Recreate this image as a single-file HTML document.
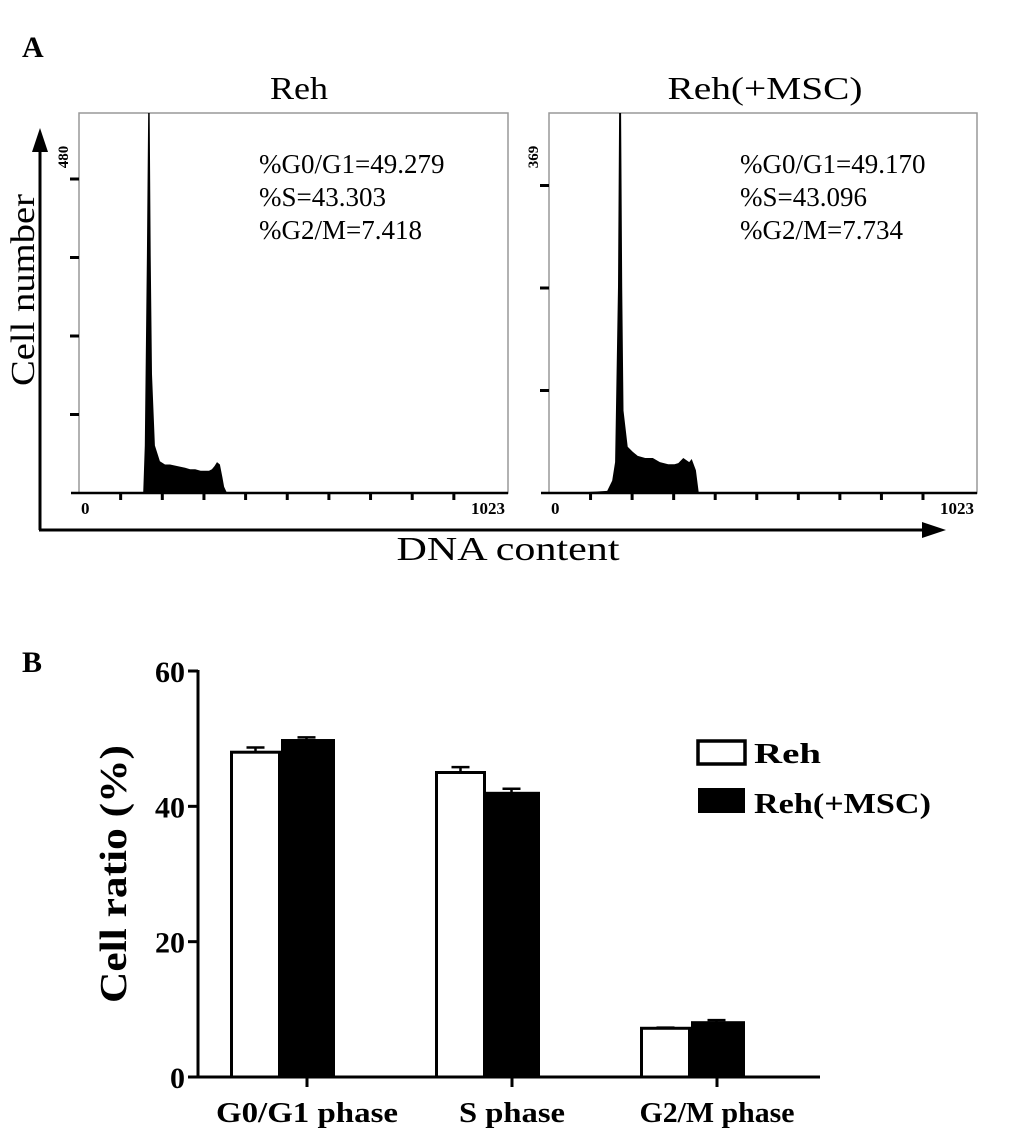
<!DOCTYPE html>
<html><head><meta charset="utf-8">
<style>
html,body{margin:0;padding:0;background:#fff;}
svg{display:block;}
text{font-family:"Liberation Serif",serif;fill:#000;}
</style></head>
<body>
<svg id="fig" width="1033" height="1138" viewBox="0 0 1033 1138">
<defs>
<clipPath id="clipL"><rect x="79" y="113" width="429" height="381"/></clipPath>
<clipPath id="clipR"><rect x="549" y="113" width="428" height="381"/></clipPath>
</defs>
<text x="22" y="57" font-size="30" font-weight="bold">A</text>
<text x="299" y="99" font-size="32" text-anchor="middle" textLength="58" lengthAdjust="spacingAndGlyphs">Reh</text>
<text x="765" y="99" font-size="32" text-anchor="middle" textLength="195" lengthAdjust="spacingAndGlyphs">Reh(+MSC)</text>

<g id="histL"></g>
<g id="histR"></g>

<text font-size="27">
<tspan x="259" y="173">%G0/G1=49.279</tspan><tspan x="259" y="206">%S=43.303</tspan><tspan x="259" y="239">%G2/M=7.418</tspan></text>
<text font-size="27">
<tspan x="740" y="173">%G0/G1=49.170</tspan><tspan x="740" y="206">%S=43.096</tspan><tspan x="740" y="239">%G2/M=7.734</tspan></text>

<g>
<line x1="40" y1="140" x2="40" y2="530" stroke="#000" stroke-width="3"/>
<polygon points="40,128 32,152 48,152" fill="#000"/>
<line x1="39" y1="530" x2="930" y2="530" stroke="#000" stroke-width="3"/>
<polygon points="946,530 922,522 922,538" fill="#000"/>
</g>
<text transform="translate(34,290) rotate(-90)" font-size="34" text-anchor="middle" textLength="192" lengthAdjust="spacingAndGlyphs">Cell number</text>
<text x="508" y="560" font-size="34" text-anchor="middle" textLength="223" lengthAdjust="spacingAndGlyphs">DNA content</text>

<text x="22" y="672" font-size="30" font-weight="bold">B</text>
<g id="bars"></g>
<text transform="translate(126,874) rotate(-90)" font-size="38" font-weight="bold" text-anchor="middle" textLength="258" lengthAdjust="spacingAndGlyphs">Cell ratio (%)</text>
<g>
<rect x="698" y="741" width="47" height="23" fill="#fff" stroke="#000" stroke-width="3.5"/>
<text x="754" y="763" font-size="29" font-weight="bold" textLength="67" lengthAdjust="spacingAndGlyphs">Reh</text>
<rect x="698" y="788" width="47" height="25" fill="#000"/>
<text x="754" y="813" font-size="29" font-weight="bold" textLength="177" lengthAdjust="spacingAndGlyphs">Reh(+MSC)</text>
</g>
</svg>
<script>
// ---- Histogram data (channel 0-1023, counts) ----
const chLeft  = [0,150,153,157,162,167,171,174,181,193,205,217,235,253,265,277,290,300,310,317,323,329,336,342,346,353,1023];
const cntLeft = [0,0,0,60,300,600,300,150,60,40,36,36,34,32,30,30,28,28,28,30,34,39,36,20,8,0,0];
const chRight  = [0,95,139,151,158,165,170,175,178,188,200,212,230,248,265,285,300,309,321,335,341,351,358,1023];
const cntRight = [0,1,2,12,30,200,520,200,80,45,40,36,34,34,30,28,28,29,34,30,33,22,0,0];
const yMaxLeft = 480, yMaxRight = 369;
const xTicksHist = [0,1023];

const NS = "http://www.w3.org/2000/svg";
function mk(tag, attrs, parent){ const e=document.createElementNS(NS,tag); for(const k in attrs) e.setAttribute(k,attrs[k]); parent.appendChild(e); return e; }

function drawHist(g, x0, x1, yTop, yBase, chs, cnts, ymax, label, clip, nYTicks, yTickPx, side){
  const sx = c => x0 + c/1023*(x1-x0);
  const sy = v => yBase - v/ymax*(yBase-yTop);
  const box = mk('rect',{x:x0,y:yTop,width:x1-x0,height:yBase-yTop,fill:'none',stroke:'#999','stroke-width':1.5},g);
  
  
  let d = 'M'+sx(chs[0])+','+yBase;
  for(let i=0;i<chs.length;i++) d += ' L'+sx(chs[i]).toFixed(1)+','+sy(cnts[i]).toFixed(1);
  d += ' L'+sx(chs[chs.length-1])+','+yBase+' Z';
  const p = mk('path',{d:d,fill:'#000','clip-path':'url(#'+clip+')'},g);
  
  
  mk('line',{x1:x0-8,y1:yBase,x2:x1,y2:yBase,stroke:'#000','stroke-width':2.5},g);
  for(let i=1;i<=9;i++){ const x = x0 + i*(x1-x0)/10.3; mk('line',{x1:x,y1:yBase,x2:x,y2:yBase+7,stroke:'#000','stroke-width':3},g); }
  for(let i=1;i<=nYTicks;i++){ const y=yBase-i*yTickPx; mk('line',{x1:x0-9,y1:y,x2:x0,y2:y,stroke:'#000','stroke-width':3},g); }
  const t0 = mk('text',{x:x0+2,y:yBase+21,'font-size':17,'font-weight':'bold'},g); t0.textContent = xTicksHist[0];
  
  
  const t1 = mk('text',{x:x1-3,y:yBase+21,'font-size':17,'font-weight':'bold','text-anchor':'end'},g); t1.textContent = xTicksHist[1];
  
  
  const ty = mk('text',{transform:'translate('+(x0-11)+',157) rotate(-90)','font-size':15,'font-weight':'bold','text-anchor':'middle'},g); ty.textContent = label;
  
  
}
drawHist(document.getElementById('histL'),79,508,113,493,chLeft,cntLeft,yMaxLeft,'480','clipL',4,78.5,'reh');
drawHist(document.getElementById('histR'),549,977,113,493,chRight,cntRight,yMaxRight,'369','clipR',3,102.5,'reh-msc');

// ---- Bar chart data ----
const categories = ['G0/G1 phase','S phase','G2/M phase'];
const rehValues = [48.0, 45.0, 7.2];
const rehErrors = [0.7, 0.8, 0.1];
const mscValues = [49.8, 42.0, 8.1];
const mscErrors = [0.4, 0.6, 0.3];
const yTicks = [0,20,40,60];
const catLabelLen = [182,106,155];

(function(){
  const g = document.getElementById('bars');
  const ax = 198, y0 = 1077, y60 = 671, xEnd = 820;
  const sy = v => y0 - v/60*(y0-y60);
  const groupX = i => 230 + i*205;
  const bw = 51;
  mk('line',{x1:ax,y1:y60-1,x2:ax,y2:y0+1,stroke:'#000','stroke-width':3},g);
  mk('line',{x1:ax-10,y1:y0,x2:xEnd,y2:y0,stroke:'#000','stroke-width':3},g);
  yTicks.forEach(v=>{
    const y=sy(v);
    mk('line',{x1:ax-10,y1:y,x2:ax,y2:y,stroke:'#000','stroke-width':3},g);
    const t=mk('text',{x:ax-13,y:y+11,'font-size':30,'font-weight':'bold','text-anchor':'end'},g); t.textContent=v;
    
    
  });
  categories.forEach((c,i)=>{
    const gx = groupX(i);
    const eR = sy(rehValues[i]+rehErrors[i]);
    mk('line',{x1:gx+bw/2,y1:eR,x2:gx+bw/2,y2:sy(rehValues[i]),stroke:'#000','stroke-width':2.5},g);
    mk('line',{x1:gx+bw/2-9,y1:eR,x2:gx+bw/2+9,y2:eR,stroke:'#000','stroke-width':2.5},g);
    const eM = sy(mscValues[i]+mscErrors[i]);
    mk('line',{x1:gx+bw*1.5,y1:eM,x2:gx+bw*1.5,y2:sy(mscValues[i]),stroke:'#000','stroke-width':2.5},g);
    mk('line',{x1:gx+bw*1.5-9,y1:eM,x2:gx+bw*1.5+9,y2:eM,stroke:'#000','stroke-width':2.5},g);
    const r1 = mk('rect',{x:gx+1.5,y:sy(rehValues[i]),width:bw-3,height:y0-sy(rehValues[i]),fill:'#fff',stroke:'#000','stroke-width':3},g);
    
    
    const r2 = mk('rect',{x:gx+bw,y:sy(mscValues[i])-1,width:bw+3,height:y0-sy(mscValues[i])+1,fill:'#000'},g);
    
    
    mk('line',{x1:gx+77,y1:y0,x2:gx+77,y2:y0+10,stroke:'#000','stroke-width':3},g);
    const t = mk('text',{x:gx+77,y:1122,'font-size':29,'font-weight':'bold','text-anchor':'middle',textLength:catLabelLen[i],lengthAdjust:'spacingAndGlyphs'},g); t.textContent=c;
    
    
  });
})();
</script>
</body></html>
